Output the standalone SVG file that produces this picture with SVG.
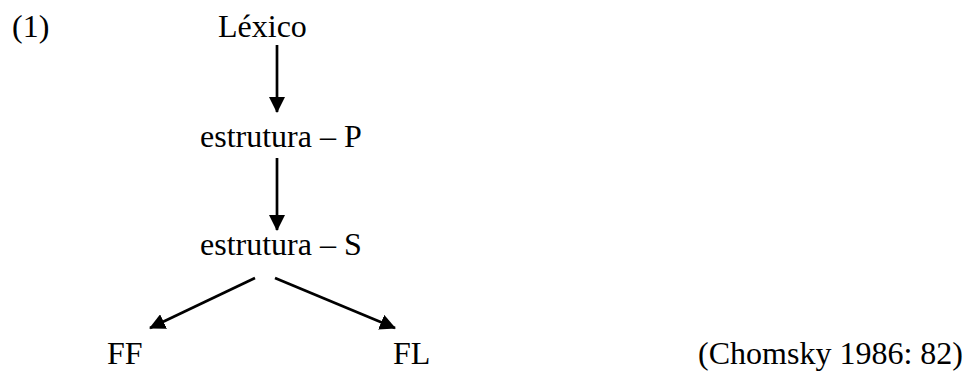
<svg xmlns="http://www.w3.org/2000/svg" width="968" height="371" viewBox="0 0 968 371">
<defs>
<style>
text{font-family:"Liberation Serif","Times New Roman",serif;font-size:32px;fill:#000}
.c{stroke:#000;stroke-width:2.7;fill:none}
</style>
<marker id="ah" viewBox="0 0 16 16" refX="15" refY="8" markerWidth="16" markerHeight="16" markerUnits="userSpaceOnUse" orient="auto">
<path d="M0,0 L16,8 L0,16 z" fill="#000"/>
</marker>
</defs>
<rect width="968" height="371" fill="#fff"/>
<g id="label-1"><text x="12" y="37">(1)</text></g>
<g id="lexico"><text x="218" y="37">Léxico</text></g>
<g id="estrutura-p"><text x="200" y="147">estrutura – P</text></g>
<g id="estrutura-s"><text x="200" y="255">estrutura – S</text></g>
<g id="ff"><text x="107" y="364">FF</text></g>
<g id="fl"><text x="393" y="364">FL</text></g>
<g id="citation"><text x="963" y="364" text-anchor="end">(Chomsky 1986: 82)</text></g>
<g id="connectors">
<line class="c" x1="277" y1="45" x2="277" y2="112" marker-end="url(#ah)"/>
<line class="c" x1="277" y1="158" x2="277" y2="230" marker-end="url(#ah)"/>
<line class="c" x1="255" y1="278" x2="150" y2="328" marker-end="url(#ah)"/>
<line class="c" x1="275" y1="278" x2="395" y2="328" marker-end="url(#ah)"/>
</g>
</svg>
